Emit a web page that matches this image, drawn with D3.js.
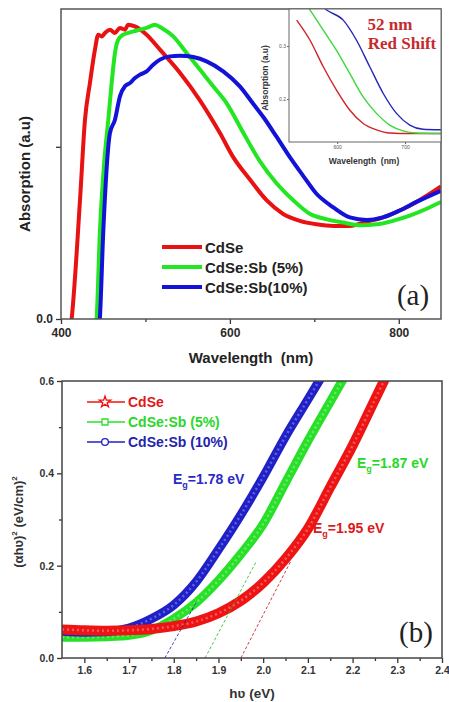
<!DOCTYPE html>
<html lang="en">
<head>
  <meta charset="UTF-8">
  <title>CdSe absorption and Tauc plot</title>
  <style>
    body, html { margin: 0; padding: 0; background: #fff; }
    #svg { display: block; }
  </style>
</head>
<body>
  <svg id="svg" width="449" height="702"></svg>
  <script src="https://d3js.org/d3.v7.min.js"></script>
  <script>
    // ---- panel (a): absorption spectra (a.u.) ----
    const cdseWl  = [410, 412.6, 422.5, 428.4, 434.3, 440.2, 444.1, 448.2, 452.1, 458, 463.9, 469.8, 475.7, 479.6, 487.5, 501.4, 517.2, 540.8, 564.5, 588.2, 603.9, 623.7, 643.4, 663.1, 682.8, 702.6, 722.3, 742, 761.7, 781.5, 801.2, 820.9, 850]
    const cdseAbs = [-0.1, 0, 0.69, 1.157, 1.372, 1.564, 1.651, 1.641, 1.661, 1.68, 1.661, 1.69, 1.68, 1.709, 1.699, 1.651, 1.564, 1.43, 1.27, 1.08, 0.94, 0.81, 0.69, 0.61, 0.57, 0.55, 0.54, 0.54, 0.565, 0.59, 0.63, 0.68, 0.77]
    const sb5Wl   = [440, 442.2, 446, 451, 456, 460, 463.9, 467.8, 473.7, 479.6, 485.6, 493.5, 501.4, 511.2, 519.2, 532.9, 548.7, 564.5, 580.2, 596, 616, 635, 655, 675, 695, 714, 734, 754, 774, 793, 813, 833, 850]
    const sb5Abs  = [-0.1, 0, 0.5, 0.9, 1.157, 1.37, 1.545, 1.622, 1.651, 1.661, 1.67, 1.68, 1.69, 1.709, 1.69, 1.641, 1.545, 1.448, 1.351, 1.254, 1.08, 0.92, 0.79, 0.69, 0.61, 0.58, 0.56, 0.545, 0.55, 0.57, 0.6, 0.64, 0.68]
    const sb10Wl  = [444, 446, 450, 458, 463.9, 469.8, 475.7, 481.7, 487.6, 493.5, 501.4, 509.2, 517.2, 529, 540.8, 556.6, 572.4, 592.1, 611.8, 627.6, 640, 655, 671, 687, 702, 722, 742, 762, 781, 801, 821, 850]
    const sb10Abs = [-0.1, 0, 0.5, 1.08, 1.157, 1.293, 1.351, 1.37, 1.399, 1.419, 1.438, 1.477, 1.506, 1.525, 1.529, 1.521, 1.496, 1.438, 1.351, 1.25, 1.17, 1.06, 0.94, 0.83, 0.73, 0.65, 0.59, 0.575, 0.59, 0.63, 0.68, 0.745]
    const seriesNamesA = ["CdSe", "CdSe:Sb (5%)", "CdSe:Sb(10%)"]
    const xTicksA = [400, 600, 800]
    const xMinorA = [500, 700]
    const yTicksA = [0, 1]

    // inset: zoom on the absorption edge
    const insetRedWl    = [540.3, 560, 579.5, 599, 618.7, 638.3, 657.9, 677.5, 706.9, 753]
    const insetRedAbs   = [0.349, 0.311, 0.261, 0.217, 0.179, 0.154, 0.142, 0.136, 0.135, 0.135]
    const insetGreenWl  = [550, 560, 579.5, 599, 618.7, 638.3, 657.9, 677.5, 697, 716.8, 753]
    const insetGreenAbs = [0.385, 0.368, 0.33, 0.292, 0.248, 0.204, 0.173, 0.151, 0.14, 0.136, 0.135]
    const insetBlueWl   = [565, 584.4, 608.9, 628.5, 648, 667.7, 687.4, 707, 726.5, 753]
    const insetBlueAbs  = [0.39, 0.368, 0.349, 0.311, 0.261, 0.211, 0.173, 0.151, 0.143, 0.142]
    const insetXTicks = [600, 700]
    const insetYTicks = [0.2, 0.3]

    // ---- panel (b): Tauc plot ----
    const cdseEv  = [1.55, 1.6, 1.65, 1.7, 1.75, 1.8, 1.85, 1.9, 1.95, 2.0, 2.05, 2.1, 2.15, 2.2, 2.25, 2.29]
    const cdseAh  = [0.062, 0.06, 0.059, 0.06, 0.063, 0.069, 0.079, 0.097, 0.124, 0.163, 0.215, 0.28, 0.37, 0.46, 0.56, 0.64]
    const sb5Ev   = [1.55, 1.6, 1.65, 1.7, 1.75, 1.8, 1.85, 1.9, 1.95, 2.0, 2.05, 2.1, 2.15, 2.2]
    const sb5Ah   = [0.045, 0.045, 0.046, 0.049, 0.06, 0.085, 0.12, 0.168, 0.225, 0.29, 0.38, 0.47, 0.555, 0.64]
    const sb10Ev  = [1.55, 1.6, 1.65, 1.7, 1.75, 1.8, 1.85, 1.9, 1.95, 2.0, 2.05, 2.1, 2.15]
    const sb10Ah  = [0.058, 0.056, 0.057, 0.065, 0.085, 0.115, 0.165, 0.235, 0.31, 0.392, 0.48, 0.56, 0.64]
    const bandGaps = [1.95, 1.87, 1.78]
    const tangentEnd = [[2.062, 0.21], [1.985, 0.21], [1.85, 0.12]]
    const seriesNamesB = ["CdSe", "CdSe:Sb (5%)", "CdSe:Sb (10%)"]
    const xTicksB = [1.6, 1.7, 1.8, 1.9, 2.0, 2.1, 2.2, 2.3, 2.4]
    const yTicksB = [0.0, 0.2, 0.4, 0.6]

    const colA = ["#e81212", "#22e622", "#1212d8"]
    const colB = ["#ee1414", "#28e028", "#2020c8"]

    const SANS = "'Liberation Sans', Arial, sans-serif"
    const SERIF = "'Liberation Serif', 'Times New Roman', serif"

    const svg = d3.select("#svg")

    function styleText(sel, size, color, family, weight) {
      return sel.style("font-family", family || SANS).style("font-weight", weight || "bold")
        .attr("font-size", size).attr("fill", color)
    }

    // ================= panel (a) =================
    const xA = d3.scaleLinear().domain([400, 850]).range([61, 441])
    const yA = d3.scaleLinear().domain([0, 1.8]).range([319, 9])

    svg.append("clipPath").attr("id", "clipA")
      .append("rect").attr("x", 61).attr("y", 9).attr("width", 380).attr("height", 310)

    const lineA = d3.line().x(d => xA(d[0])).y(d => yA(d[1])).curve(d3.curveMonotoneX)
    const dataA = [d3.zip(cdseWl, cdseAbs), d3.zip(sb5Wl, sb5Abs), d3.zip(sb10Wl, sb10Abs)]

    svg.append("g").attr("clip-path", "url(#clipA)")
      .selectAll("path").data(dataA).enter().append("path")
      .attr("d", lineA).attr("fill", "none")
      .attr("stroke", (d, i) => colA[i]).attr("stroke-width", 4)
      .attr("stroke-linejoin", "round")

    // axes (a)
    const axA = svg.append("g").attr("transform", "translate(0,319)")
      .call(d3.axisBottom(xA).tickValues(xTicksA).tickSize(5).tickSizeOuter(0).tickPadding(4))
    const axAm = svg.append("g").attr("transform", "translate(0,319)")
      .call(d3.axisBottom(xA).tickValues(xMinorA).tickSize(3).tickFormat("").tickSizeOuter(0))
    const ayA = svg.append("g").attr("transform", "translate(61,0)")
      .call(d3.axisLeft(yA).tickValues(yTicksA).tickSize(5).tickSizeOuter(0)
        .tickFormat(d => d === 0 ? "0.0" : "").tickPadding(3))
    ;[axA, axAm, ayA].forEach(g => {
      g.select(".domain").remove()
      g.selectAll("line").attr("stroke", "#333").attr("stroke-width", 1.3)
      styleText(g.selectAll("text"), 12, "#2a2a2a")
    })

    svg.append("rect").attr("x", 61).attr("y", 9).attr("width", 380).attr("height", 310)
      .attr("fill", "none").attr("stroke", "#555").attr("stroke-width", 1.5)

    styleText(svg.append("text"), 15, "#222")
      .attr("x", 251).attr("y", 363).attr("text-anchor", "middle")
      .attr("xml:space", "preserve").text("Wavelength  (nm)")
    styleText(svg.append("text"), 15, "#222")
      .attr("transform", "translate(30,174) rotate(-90)").attr("text-anchor", "middle")
      .text("Absorption (a.u)")

    // legend (a)
    seriesNamesA.forEach((name, i) => {
      const yy = 247 + i * 20
      svg.append("line").attr("x1", 162).attr("x2", 202).attr("y1", yy).attr("y2", yy)
        .attr("stroke", colA[i]).attr("stroke-width", 4)
      styleText(svg.append("text"), 15, "#222").attr("x", 205).attr("y", yy + 5.5).text(name)
    })

    styleText(svg.append("text"), 29, "#222", SERIF, "normal")
      .attr("x", 413).attr("y", 305).attr("text-anchor", "middle").text("(a)")

    // ---- inset ----
    const xI = d3.scaleLinear().domain([529, 753]).range([289, 441])
    const yI = d3.scaleLinear().domain([0.119, 0.37]).range([142, 9])

    svg.append("rect").attr("x", 289).attr("y", 9).attr("width", 152).attr("height", 133).attr("fill", "#fff")
    svg.append("clipPath").attr("id", "clipI")
      .append("rect").attr("x", 289).attr("y", 9).attr("width", 152).attr("height", 133)

    const lineI = d3.line().x(d => xI(d[0])).y(d => yI(d[1])).curve(d3.curveMonotoneX)
    const dataI = [d3.zip(insetRedWl, insetRedAbs), d3.zip(insetGreenWl, insetGreenAbs), d3.zip(insetBlueWl, insetBlueAbs)]
    const colI = ["#d02424", "#3ad83a", "#2626b8"]
    svg.append("g").attr("clip-path", "url(#clipI)")
      .selectAll("path").data(dataI).enter().append("path")
      .attr("d", lineI).attr("fill", "none")
      .attr("stroke", (d, i) => colI[i]).attr("stroke-width", 1.4)

    const axI = svg.append("g").attr("transform", "translate(0,142)")
      .call(d3.axisBottom(xI).tickValues(insetXTicks).tickSize(2).tickSizeOuter(0).tickPadding(1))
    const ayI = svg.append("g").attr("transform", "translate(289,0)")
      .call(d3.axisLeft(yI).tickValues(insetYTicks).tickSize(2).tickSizeOuter(0).tickPadding(1).tickFormat(d3.format(".1f")))
    ;[axI, ayI].forEach(g => {
      g.select(".domain").remove()
      g.selectAll("line").attr("stroke", "#666")
      styleText(g.selectAll("text"), 5, "#555", SANS, "normal")
    })
    svg.append("rect").attr("x", 289).attr("y", 9).attr("width", 152).attr("height", 133)
      .attr("fill", "none").attr("stroke", "#666").attr("stroke-width", 1)
    styleText(svg.append("text"), 8.5, "#333")
      .attr("x", 364).attr("y", 164).attr("text-anchor", "middle")
      .attr("xml:space", "preserve").text("Wavelength  (nm)")
    styleText(svg.append("text"), 8.5, "#333")
      .attr("transform", "translate(268,78) rotate(-90)").attr("text-anchor", "middle")
      .text("Absorption (a.u)")

    const shift = styleText(svg.append("text"), 17, "#c62a2e", SERIF, "bold").attr("text-anchor", "middle")
    shift.append("tspan").attr("x", 390).attr("y", 30).text("52 nm")
    shift.append("tspan").attr("x", 402).attr("y", 49).text("Red Shift")

    // ================= panel (b) =================
    const xB = d3.scaleLinear().domain([1.55, 2.4]).range([62, 442])
    const yB = d3.scaleLinear().domain([0, 0.6]).range([658, 381])

    svg.append("clipPath").attr("id", "clipB")
      .append("rect").attr("x", 62).attr("y", 381).attr("width", 380).attr("height", 277)

    const gB = svg.append("g").attr("clip-path", "url(#clipB)")

    const lineB = d3.line().x(d => xB(d[0])).y(d => yB(d[1])).curve(d3.curveMonotoneX)
    const dataB = [d3.zip(cdseEv, cdseAh), d3.zip(sb5Ev, sb5Ah), d3.zip(sb10Ev, sb10Ah)]
    const order = [1, 2, 0]   // red band drawn on top
    order.forEach(i => {
      gB.append("path").attr("d", lineB(dataB[i])).attr("fill", "none")
        .attr("stroke", colB[i]).attr("stroke-width", i === 0 ? 10 : 9).attr("stroke-linecap", "round")
      gB.append("path").attr("d", lineB(dataB[i])).attr("fill", "none")
        .attr("stroke", "#fff").attr("stroke-opacity", 0.3).attr("stroke-width", 2.5)
        .attr("stroke-dasharray", "2,3")
    })
    // dashed tangent lines from the band gap up into the band
    gB.selectAll("line.tan").data(bandGaps).enter().append("line").attr("class", "tan")
      .attr("x1", d => xB(d)).attr("y1", yB(0))
      .attr("x2", (d, i) => xB(tangentEnd[i][0])).attr("y2", (d, i) => yB(tangentEnd[i][1]))
      .attr("stroke", (d, i) => d3.color(colB[i]).darker(0.5)).attr("stroke-width", 1)
      .attr("stroke-dasharray", "3,2").attr("stroke-opacity", 0.8)

    const axB = svg.append("g").attr("transform", "translate(0,658)")
      .call(d3.axisBottom(xB).tickValues(xTicksB).tickSize(5).tickSizeOuter(0).tickPadding(4).tickFormat(d3.format(".1f")))
    const axBm = svg.append("g").attr("transform", "translate(0,658)")
      .call(d3.axisBottom(xB).tickValues(xTicksB.slice(0, -1).map(v => v + 0.05)).tickSize(3).tickFormat("").tickSizeOuter(0))
    const ayB = svg.append("g").attr("transform", "translate(62,0)")
      .call(d3.axisLeft(yB).tickValues(yTicksB).tickSize(5).tickSizeOuter(0).tickPadding(3).tickFormat(d3.format(".1f")))
    const ayBm = svg.append("g").attr("transform", "translate(62,0)")
      .call(d3.axisLeft(yB).tickValues(yTicksB.slice(0, -1).map(v => v + 0.1)).tickSize(3).tickFormat("").tickSizeOuter(0))
    ;[axB, axBm, ayB, ayBm].forEach(g => {
      g.select(".domain").remove()
      g.selectAll("line").attr("stroke", "#333").attr("stroke-width", 1.3)
      styleText(g.selectAll("text"), 10.5, "#333")
    })
    svg.append("rect").attr("x", 62).attr("y", 381).attr("width", 380).attr("height", 277)
      .attr("fill", "none").attr("stroke", "#444").attr("stroke-width", 1.5)

    styleText(svg.append("text"), 13.5, "#333")
      .attr("x", 252).attr("y", 698).attr("text-anchor", "middle").text("h\u028B (eV)")
    const yl = styleText(svg.append("text"), 13, "#333")
      .attr("transform", "translate(23,522) rotate(-90)").attr("text-anchor", "middle")
    yl.append("tspan").text("(\u03B1h\u028B)")
    yl.append("tspan").attr("font-size", 8).attr("dy", -6).text("2")
    yl.append("tspan").attr("dy", 6).text(" (eV/cm)")
    yl.append("tspan").attr("font-size", 8).attr("dy", -6).text("2")

    // legend (b)
    const symbols = [d3.symbolStar, d3.symbolSquare, d3.symbolCircle]
    const legTxt = ["#e01818", "#28d828", "#2424b0"]
    seriesNamesB.forEach((name, i) => {
      const yy = 402 + i * 20
      svg.append("line").attr("x1", 87).attr("x2", 125).attr("y1", yy).attr("y2", yy)
        .attr("stroke", colB[i]).attr("stroke-width", 1.5)
      svg.append("path").attr("transform", `translate(105,${yy})`)
        .attr("d", d3.symbol().type(symbols[i]).size(i === 0 ? 40 : 36)())
        .attr("fill", "#fff").attr("stroke", colB[i]).attr("stroke-width", 1.3)
      styleText(svg.append("text"), 14, legTxt[i]).attr("x", 128).attr("y", yy + 5).text(name)
    })

    // band gap labels
    const egPos = [[313, 533], [357, 468], [173, 484]]
    const egCol = ["#e01818", "#28d828", "#2a2ac8"]
    bandGaps.forEach((eg, i) => {
      const t = styleText(svg.append("text"), 14, egCol[i]).attr("x", egPos[i][0]).attr("y", egPos[i][1])
      t.append("tspan").text("E")
      t.append("tspan").attr("font-size", 9).attr("dy", 4).text("g")
      t.append("tspan").attr("dy", -4).text("=" + eg.toFixed(2) + " eV")
    })

    styleText(svg.append("text"), 29, "#222", SERIF, "normal")
      .attr("x", 416).attr("y", 642).attr("text-anchor", "middle").text("(b)")
  </script>
</body>
</html>
